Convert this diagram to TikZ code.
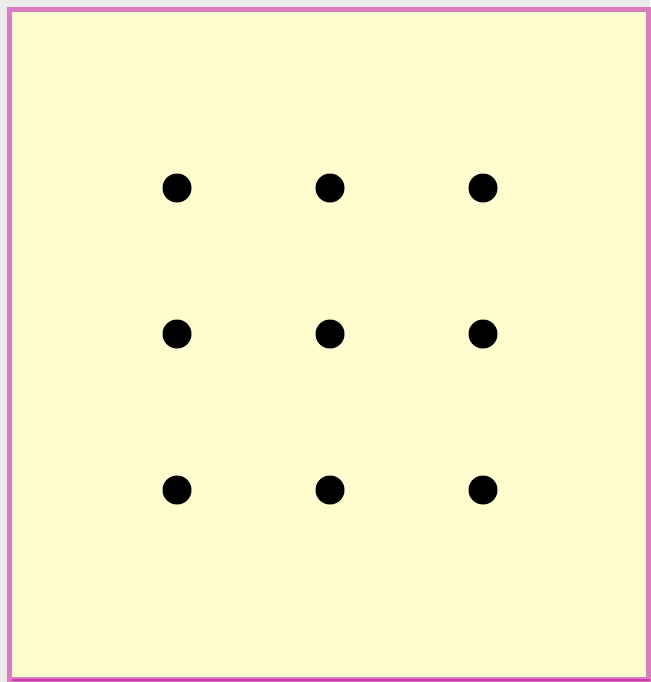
\documentclass[tikz,border=0pt]{standalone}
\usepackage{xcolor}
\usetikzlibrary{positioning}
\definecolor{paper}{HTML}{FFFDD0}
\definecolor{rim}{HTML}{DC7CC0}
\definecolor{rimdark}{HTML}{CC33AA}
\definecolor{margin}{HTML}{ECECEA}
\tikzset{
  dot/.style={circle,fill=black,inner sep=0pt,minimum size=29pt},
  frame/.style={draw=rim,line width=5pt,fill=paper}
}

\begin{document}
\begin{tikzpicture}[x=1pt,y=-1pt]
\useasboundingbox (0,0) rectangle (650,682);
\fill[margin] (0,0) rectangle (650,682);
\draw[frame] (9.5,9.5) rectangle (648.5,679.5);
\draw[rimdark,line width=2pt] (12,680) -- (650,680);
% grid of dots
\foreach \r/\y in {1/188,2/334,3/490}{
  \foreach \c/\x in {1/177,2/330,3/483}{
    \node[dot] (d\r\c) at (\x,\y) {};
  }
}
\end{tikzpicture}
\end{document}
